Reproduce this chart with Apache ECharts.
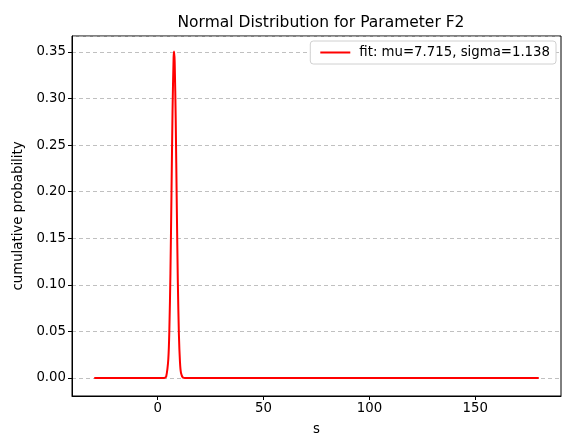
<!DOCTYPE html>
<html>
<head>
<meta charset="utf-8">
<script src="https://cdn.jsdelivr.net/npm/echarts@6/dist/echarts.min.js"></script>
<style>
html, body { margin: 0; padding: 0; background: #fff; }
#chart { width: 564px; height: 436px; }
</style>
</head>
<body>
<div id="chart"></div>
<script>
// fitted normal curve (s, probability density)
var sValues = [-30, 0, 2, 3, 4, 5, 5.5, 6, 6.5, 7, 7.5, 7.715, 8, 8.5, 9, 9.5, 10, 10.5, 11, 12, 13, 15, 50, 100, 150, 180];
var probValues = [0, 0, 0, 0.0001, 0.0017, 0.0204, 0.0528, 0.1126, 0.1983, 0.2878, 0.3444, 0.3506, 0.3398, 0.2764, 0.1853, 0.1025, 0.0467, 0.0176, 0.0054, 0.0003, 0, 0, 0, 0, 0, 0];
var legendName = 'fit: mu=7.715, sigma=1.138';

var points = [];
for (var i = 0; i < sValues.length; i++) {
	points.push([sValues[i], probValues[i]]);
}

var font = 'DejaVu Sans';
var fs = 13.3;

echarts.init(document.getElementById('chart')).setOption({
	animation: false,
	title: {
		text: 'Normal Distribution for Parameter F2',
		left: 316,
		top: 10,
		textAlign: 'center',
		textStyle: { fontFamily: font, fontSize: 15.5, fontWeight: 'normal', color: '#000' }
	},
	legend: {
		data: [legendName],
		right: 8,
		top: 41,
		icon: 'rect',
		itemWidth: 30,
		itemHeight: 2,
		itemGap: 8,
		padding: [5, 6, 5, 10],
		borderColor: '#d0d0d0',
		borderWidth: 1,
		borderRadius: 3,
		backgroundColor: '#fff',
		textStyle: { fontFamily: font, fontSize: fs, color: '#000', padding: [0, 0, 0, 4] }
	},
	grid: {
		left: 72,
		right: 3,
		top: 36,
		bottom: 40,
		outerBoundsMode: 'none',
		containLabel: false,
		show: true,
		borderColor: '#000',
		borderWidth: 1
	},
	xAxis: {
		type: 'value',
		min: -40.5,
		max: 190.5,
		splitNumber: 5,
		name: 's',
		nameLocation: 'middle',
		nameGap: 27,
		nameTextStyle: { fontFamily: font, fontSize: fs, color: '#000' },
		axisLine: { show: true, onZero: false, lineStyle: { color: '#000' } },
		axisTick: { show: true, length: 4, lineStyle: { color: '#000' } },
		axisLabel: { fontFamily: font, fontSize: fs, color: '#000', margin: 6, showMinLabel: false, showMaxLabel: false },
		splitLine: { show: false }
	},
	yAxis: {
		type: 'value',
		min: -0.0193,
		max: 0.3672,
		splitNumber: 7,
		name: 'cumulative probability',
		nameLocation: 'middle',
		nameGap: 47,
		nameTextStyle: { fontFamily: font, fontSize: fs, color: '#000' },
		axisLine: { show: true, onZero: false, lineStyle: { color: '#000' } },
		axisTick: { show: true, length: 4, lineStyle: { color: '#000' } },
		axisLabel: {
			fontFamily: font, fontSize: fs, color: '#000', margin: 6,
			showMinLabel: false, showMaxLabel: false,
			formatter: function(v) { return v.toFixed(2); }
		},
		splitLine: { show: true, lineStyle: { color: '#b0b0b0', type: [4, 3], width: 0.8 } }
	},
	series: [{
		type: 'line',
		name: legendName,
		data: points,
		smooth: 0.3,
		symbol: 'none',
		lineStyle: { color: '#ff0000', width: 2 },
		itemStyle: { color: '#ff0000' }
	}]
});
</script>
</body>
</html>
